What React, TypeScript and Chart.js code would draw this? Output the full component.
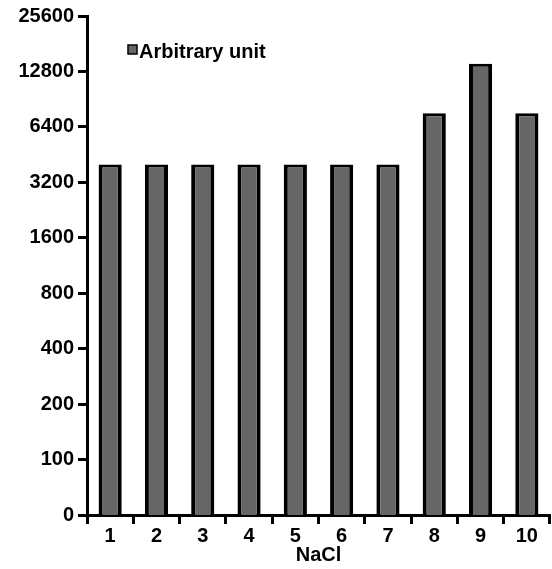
import React, { useEffect, useRef } from "react";
import { Chart, registerables } from "chart.js";

Chart.register(...registerables);

const categories = ["1", "2", "3", "4", "5", "6", "7", "8", "9", "10"];
const seriesLabel = "Arbitrary unit";
const seriesValues = [4000, 4000, 4000, 4000, 4000, 4000, 4000, 7600, 14100, 7600];
const yTickValues = [50, 100, 200, 400, 800, 1600, 3200, 6400, 12800, 25600];
const yTickLabels = ["0", "100", "200", "400", "800", "1600", "3200", "6400", "12800", "25600"];
const xTitle = "NaCl";

const FONT = '"Liberation Sans", Arial, sans-serif';
const BAR_FILL = "#666666";

const legendPlugin = {
  id: "customLegend",
  afterDraw(chart: any) {
    const ctx = chart.ctx;
    const ds = chart.data.datasets[0];
    ctx.save();
    ctx.fillStyle = ds.backgroundColor;
    ctx.strokeStyle = "#000";
    ctx.lineWidth = 1.5;
    ctx.fillRect(128, 45, 9, 9);
    ctx.strokeRect(128, 45, 9, 9);
    ctx.fillStyle = "#000";
    ctx.font = `bold 20px ${FONT}`;
    ctx.textBaseline = "alphabetic";
    ctx.textAlign = "left";
    ctx.fillText(ds.label, 139, 58);
    ctx.restore();
  },
};

export default function App() {
  const ref = useRef<HTMLCanvasElement | null>(null);

  useEffect(() => {
    if (!ref.current) return;
    const chart = new Chart(ref.current, {
      type: "bar",
      data: {
        labels: categories,
        datasets: [
          {
            label: seriesLabel,
            data: seriesValues,
            backgroundColor: BAR_FILL,
            borderColor: "#000000",
            borderWidth: { top: 3, left: 4, right: 4, bottom: 0 },
            borderSkipped: false,
            barPercentage: 0.5,
            categoryPercentage: 1,
          },
        ],
      },
      options: {
        responsive: false,
        animation: false,
        layout: { padding: { top: 15, right: 2, left: 0, bottom: 0 } },
        plugins: {
          legend: { display: false },
          tooltip: { enabled: false },
        },
        scales: {
          x: {
            type: "category",
            offset: true,
            grid: {
              display: true,
              offset: true,
              drawOnChartArea: false,
              drawTicks: true,
              tickLength: 9,
              tickWidth: 3,
              tickColor: "#000",
            },
            border: { display: true, color: "#000", width: 3 },
            ticks: {
              color: "#000",
              font: { family: FONT, size: 20, weight: "bold" },
              padding: 0,
              maxRotation: 0,
              autoSkip: false,
            },
            title: {
              display: true,
              text: xTitle,
              color: "#000",
              font: { family: FONT, size: 20, weight: "bold" },
              padding: { top: 2, bottom: 2 },
            },
            afterFit(scale: any) {
              scale.height = 54;
            },
          },
          y: {
            type: "logarithmic",
            min: 50,
            max: 25600,
            grid: {
              display: true,
              drawOnChartArea: false,
              drawTicks: true,
              tickLength: 9,
              tickWidth: 3,
              tickColor: "#000",
            },
            border: { display: true, color: "#000", width: 3 },
            ticks: {
              color: "#000",
              font: { family: FONT, size: 20, weight: "bold" },
              padding: 4,
              autoSkip: false,
              callback: (value: any) => {
                const i = yTickValues.indexOf(Number(value));
                return i >= 0 ? yTickLabels[i] : "";
              },
            },
            afterBuildTicks(scale: any) {
              scale.ticks = yTickValues.map((v) => ({ value: v }));
            },
            afterFit(scale: any) {
              scale.width = 87;
            },
          },
        },
      },
      plugins: [legendPlugin],
    } as any);
    return () => chart.destroy();
  }, []);

  return (
    <div style={{ position: "fixed", left: 0, top: 0, width: 552, height: 569, background: "#fff" }}>
      <canvas ref={ref} width={552} height={569} style={{ width: 552, height: 569 }} />
    </div>
  );
}
